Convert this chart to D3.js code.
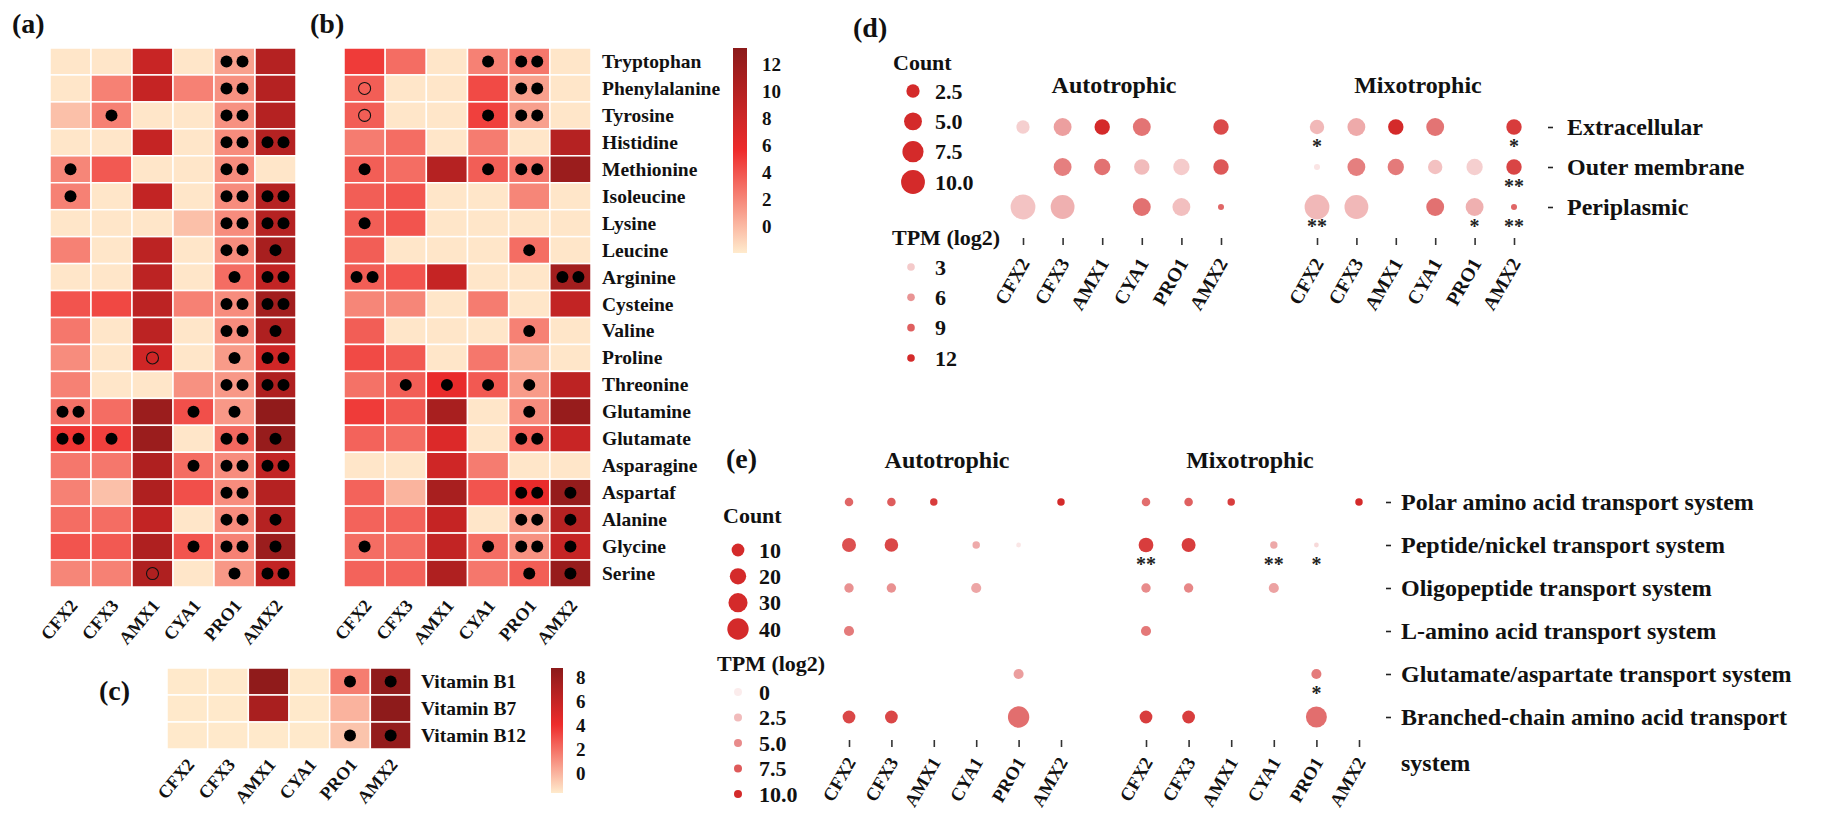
<!DOCTYPE html>
<html><head><meta charset="utf-8">
<script src="https://cdn.jsdelivr.net/npm/d3@7"></script>
<style>
body{margin:0;background:#fff}
svg text{font-family:"Liberation Serif","Times New Roman",serif;font-weight:bold;fill:#111}
</style>
</head><body>
<svg id="chart" width="1821" height="814"></svg>
<script>
// ---------------- DATA ----------------
const strains = ["CFX2","CFX3","AMX1","CYA1","PRO1","AMX2"];
const aminoAcids = ["Tryptophan","Phenylalanine","Tyrosine","Histidine","Methionine","Isoleucine","Lysine","Leucine","Arginine","Cysteine","Valine","Proline","Threonine","Glutamine","Glutamate","Asparagine","Aspartaf","Alanine","Glycine","Serine"];
// (a) heat values (log2 scale)
const heatA = [
 [-1.8,-1.8,8.5,-1.8,1.0,10],
 [-1.8,2.2,8.8,2.2,1.6,10],
 [-0.3,2.2,-1.8,-1.8,1.6,10],
 [-1.8,-1.8,8.8,-1.8,1.8,10],
 [2.0,3.8,-1.8,-1.8,1.8,-1.8],
 [2.2,-1.8,9.0,-1.8,1.8,10],
 [-1.8,-1.8,-1.8,-0.3,1.8,10],
 [2.2,-1.8,9.5,-1.8,1.8,11],
 [-1.8,-1.8,9.5,-1.8,3.0,9],
 [4.0,4.5,9.5,2.2,1.8,11.5],
 [2.6,-1.8,9.5,-1.8,1.8,10.5],
 [1.8,-1.8,8.0,-1.8,1.2,8],
 [2.2,-1.8,-1.8,1.6,1.3,10.5],
 [2.8,3.0,12,4.2,1.3,12.8],
 [5.2,4.8,12,-1.8,3.2,12.3],
 [2.6,2.6,10.5,3.0,1.8,9],
 [2.2,-0.3,10.5,4.2,1.8,10],
 [3.0,3.0,9.0,-1.8,1.8,10],
 [4.0,3.8,10.5,4.0,2.2,12],
 [2.0,2.2,10.5,-1.8,1.3,9]
];
// markers: 0 none, 1 one dot, 2 two dots, 3 open circle
const markA = [
 [0,0,0,0,2,0],[0,0,0,0,2,0],[0,1,0,0,2,0],[0,0,0,0,2,2],[1,0,0,0,2,0],
 [1,0,0,0,2,2],[0,0,0,0,2,2],[0,0,0,0,2,1],[0,0,0,0,1,2],[0,0,0,0,2,2],
 [0,0,0,0,2,1],[0,0,3,0,1,2],[0,0,0,0,2,2],[2,0,0,1,1,0],[2,1,0,0,2,1],
 [0,0,0,1,2,2],[0,0,0,0,2,0],[0,0,0,0,2,1],[0,0,0,1,2,1],[0,0,3,0,1,2]
];
// (b)
const heatB = [
 [5.0,3.0,-1.8,2.2,2.6,-1.8],
 [3.6,-1.8,-1.8,4.4,1.0,-1.8],
 [3.6,-1.8,-1.8,4.8,1.0,-1.8],
 [2.4,3.0,-1.8,2.4,-1.8,10],
 [3.6,3.0,10,3.6,2.6,12],
 [3.6,4.0,-1.8,-1.8,2.0,-1.8],
 [3.6,4.0,-1.8,-1.8,-1.8,-1.8],
 [3.6,-1.8,-1.8,-1.8,3.0,-1.8],
 [3.6,4.0,8.8,-1.8,-1.8,11.5],
 [2.0,2.0,-1.8,2.4,-1.8,9],
 [3.6,-1.8,-1.8,-1.8,2.2,-1.8],
 [4.4,3.8,-1.8,2.6,0.2,-1.8],
 [2.8,3.6,6.0,3.8,1.2,9.5],
 [5.0,3.8,11,-1.8,1.8,12.3],
 [3.4,3.0,7.0,-1.8,3.4,8.5],
 [-1.8,-1.8,8.0,2.4,-1.8,-1.8],
 [3.4,0.2,11,4.0,6.0,12.5],
 [3.4,3.4,8.8,-1.8,1.2,10],
 [3.0,3.0,9.0,3.0,1.6,8.8],
 [3.4,3.4,10.5,2.6,3.6,12.3]
];
const markB = [
 [0,0,0,1,2,0],[3,0,0,0,2,0],[3,0,0,1,2,0],[0,0,0,0,0,0],[1,0,0,1,2,0],
 [0,0,0,0,0,0],[1,0,0,0,0,0],[0,0,0,0,1,0],[2,0,0,0,0,2],[0,0,0,0,0,0],
 [0,0,0,0,1,0],[0,0,0,0,0,0],[0,1,1,1,1,0],[0,0,0,0,1,0],[0,0,0,0,2,0],
 [0,0,0,0,0,0],[0,0,0,0,2,1],[0,0,0,0,2,1],[1,0,0,1,2,1],[0,0,0,0,1,1]
];
const heatTicks = [0,2,4,6,8,10,12];
// (c)
const vitamins = ["Vitamin B1","Vitamin B7","Vitamin B12"];
const heatC = [
 [-1.6,-1.6,8.5,-1.6,1.6,8.5],
 [-1.6,-1.6,7.3,-1.6,0.0,8.6],
 [-1.6,-1.6,-1.6,-1.6,-0.5,8.3]
];
const markC = [[0,0,0,0,1,1],[0,0,0,0,0,0],[0,0,0,0,1,1]];
const vitTicks = [0,2,4,6,8];
// (d)
const locations = ["Extracellular","Outer membrane","Periplasmic"];
const dCountAuto = [[2.5,5,3.5,5,null,3.5],[null,5,4,3.5,4,3.5],[11,10,null,5,5,1]];
const dTpmAuto   = [[2.7,5.4,12,7.8,null,10.2],[null,7.2,8,3.8,2.9,9.4],[3.4,4.4,null,8,3.6,8.6]];
const dCountMixo = [[3,5,3.5,5,null,3.5],[1,5,4,3,4,3.5],[11,10,null,5,5,1]];
const dTpmMixo   = [[4,4.8,12,7.8,null,11],[1.5,7.2,7.5,3.5,2.7,10.5],[4,4,null,8,4.4,8.6]];
const dSigMixo   = [["*","","","","","*"],["","","","","","**"],["**","","","","*","**"]];
const countTicksD = [2.5,5.0,7.5,10.0];
const tpmTicksD = [3,6,9,12];
// (e)
const transporters = ["Polar amino acid transport system","Peptide/nickel transport system","Oligopeptide transport system","L-amino acid transport system","Glutamate/aspartate transport system","Branched-chain amino acid transport system"];
const eCountAuto = [
 [3,3,2,null,null,2],[13,12,null,2,1,null],[4,4,null,5,null,null],
 [5,null,null,null,null,null],[null,null,null,null,5,null],[10,10,null,null,40,null]];
const eTpmAuto = [
 [6.9,7.4,9.1,null,null,10],[8,8.5,null,3.4,0.3,null],[4.7,4.7,null,3.6,null,null],
 [5.8,null,null,null,null,null],[null,null,null,null,4,null],[8.5,8.5,null,null,6.5,null]];
const eCountMixo = [
 [3,3,2,null,null,2],[15,13,null,2,1,null],[4,4,null,5,null,null],
 [5,null,null,null,null,null],[null,null,null,null,5,null],[10,10,null,null,38,null]];
const eTpmMixo = [
 [6.5,7.2,9,null,null,10],[9,9,null,3.5,1,null],[5,5.2,null,3.8,null,null],
 [6,null,null,null,null,null],[null,null,null,null,5.8,null],[9,9,null,null,6.5,null]];
const eSigMixo = [
 ["","","","","",""],["**","","","**","*",""],["","","","","",""],
 ["","","","","",""],["","","","","*",""],["","","","","",""]];
const countTicksE = [10,20,30,40];
const tpmTicksE = [0,2.5,5.0,7.5,10.0];

// ---------------- DRAW ----------------
const svg = d3.select("#chart");
const defs = svg.append("defs");
const RED = "#d42a2a";

function txt(x, y, s, size, opts = {}) {
  return svg.append("text").attr("x", x).attr("y", y)
    .attr("text-anchor", opts.anchor || "start")
    .attr("dominant-baseline", opts.base || "central")
    .style("font-size", size + "px").text(s);
}

const heatScale = d => d3.scaleLinear().domain(d).range(["#FFEBCD","#EE2C2C","#8B1A1A"]).clamp(true);
const colAB = heatScale([-2, 5.6, 13.25]);
const colC = heatScale([-1.67, 4, 8.75]);

function drawHeat(values, marks, rows, x, y, color, labelY) {
  const g = svg.append("g");
  values.forEach((row, i) => row.forEach((v, j) => {
    g.append("rect").attr("x", x(strains[j])).attr("y", y(rows[i]))
      .attr("width", x.bandwidth()).attr("height", y.bandwidth())
      .attr("fill", color(v)).attr("stroke", "#fff").attr("stroke-width", 1.5);
  }));
  marks.forEach((row, i) => row.forEach((m, j) => {
    const cx = x(strains[j]) + x.bandwidth() / 2, cy = y(rows[i]) + y.bandwidth() / 2;
    if (m === 1) g.append("circle").attr("cx", cx).attr("cy", cy).attr("r", 6).attr("fill", "#000");
    else if (m === 2) [-8, 8].forEach(o => g.append("circle").attr("cx", cx + o).attr("cy", cy).attr("r", 6).attr("fill", "#000"));
    else if (m === 3) g.append("circle").attr("cx", cx).attr("cy", cy).attr("r", 6).attr("fill", "none").attr("stroke", "#111").attr("stroke-width", 1.1);
  }));
  strains.forEach(s => {
    g.append("text").attr("text-anchor", "end")
      .attr("transform", `translate(${x(s) + x.bandwidth() / 2 + 8},${labelY}) rotate(-50)`)
      .style("font-size", "18px").text(s);
  });
}

function colorbar(id, color, domain, x0, w, yr, ticks, pad) {
  const y = d3.scaleLinear().domain(domain).range(yr);
  const grad = defs.append("linearGradient").attr("id", id).attr("x1", 0).attr("y1", 1).attr("x2", 0).attr("y2", 0);
  d3.range(0, 1.0001, 0.05).forEach(t => grad.append("stop").attr("offset", t)
    .attr("stop-color", color(domain[0] + t * (domain[1] - domain[0]))));
  svg.append("rect").attr("x", x0).attr("y", yr[1]).attr("width", w).attr("height", yr[0] - yr[1]).attr("fill", `url(#${id})`);
  const ax = svg.append("g").attr("transform", `translate(${x0 + w},0)`)
    .call(d3.axisRight(y).tickValues(ticks).tickSize(0).tickPadding(pad).tickFormat(d3.format("d")));
  ax.select(".domain").remove();
  ax.selectAll("text").style("font-size", "19px");
}

// (a)
const yAB = d3.scaleBand().domain(aminoAcids).range([48, 587]);
const xA = d3.scaleBand().domain(strains).range([50, 296]);
const xB = d3.scaleBand().domain(strains).range([344, 591]);
drawHeat(heatA, markA, aminoAcids, xA, yAB, colAB, 606);
drawHeat(heatB, markB, aminoAcids, xB, yAB, colAB, 606);
aminoAcids.forEach(a => txt(602, yAB(a) + yAB.bandwidth() / 2, a, 19.5));
colorbar("gradAB", colAB, [-2, 13.25], 733, 14, [253, 48], heatTicks, 15);
txt(12, 23, "(a)", 28);
txt(310, 23, "(b)", 28);

// (c)
const yC = d3.scaleBand().domain(vitamins).range([668, 749]);
const xC = d3.scaleBand().domain(strains).range([167, 411]);
drawHeat(heatC, markC, vitamins, xC, yC, colC, 765);
vitamins.forEach(v => txt(421, yC(v) + yC.bandwidth() / 2, v, 19.5));
colorbar("gradC", colC, [-1.67, 8.75], 551, 12, [793, 668], vitTicks, 13);
txt(99, 690, "(c)", 28);

// dot panels
function dotPanel(rows, counts, tpms, sig, x, y, r, op) {
  const g = svg.append("g");
  counts.forEach((row, i) => row.forEach((c, j) => {
    if (c == null) return;
    g.append("circle").attr("cx", x(strains[j])).attr("cy", y(rows[i]))
      .attr("r", r(c - 1)).attr("fill", RED).attr("fill-opacity", op(tpms[i][j]));
  }));
  if (sig) sig.forEach((row, i) => row.forEach((s, j) => {
    if (!s) return;
    g.append("text").attr("x", x(strains[j])).attr("y", y(rows[i]) + 26)
      .attr("text-anchor", "middle").style("font-size", "20px").style("fill", "#222").text(s);
  }));
}
function bottomAxis(x, y0, off, size) {
  const ax = svg.append("g").attr("transform", `translate(0,${y0})`)
    .call(d3.axisBottom(x).tickSize(7).tickPadding(0));
  ax.select(".domain").remove();
  ax.selectAll(".tick line").attr("stroke", "#333").attr("stroke-width", 1.6);
  ax.selectAll("text").attr("y", null).attr("dy", null).attr("text-anchor", "end")
    .attr("transform", `translate(7,${off}) rotate(-60)`).style("font-size", size + "px");
}
function rightAxis(y, x0, pad, size, maxW) {
  const ax = svg.append("g").attr("transform", `translate(${x0},0)`)
    .call(d3.axisRight(y).tickSize(5).tickPadding(pad));
  ax.select(".domain").remove();
  ax.selectAll(".tick line").attr("stroke", "#222").attr("stroke-width", 1.6);
  ax.selectAll("text").style("font-size", size + "px").each(function () {
    const t = d3.select(this);
    if (this.getComputedTextLength() <= maxW) return;
    const words = t.text().split(" ");
    const last = words.pop();
    t.text(null);
    t.append("tspan").attr("x", pad + 5).attr("dy", "0.32em").text(words.join(" "));
    t.append("tspan").attr("x", pad + 5).attr("dy", "1.9em").text(last);
  });
}

// (d)
const rD = d3.scaleSqrt().domain([0, 10]).range([3, 12.4]);
const opD = d3.scaleLinear().domain([0, 12]).range([0, 1]).clamp(true);
const yD = d3.scalePoint().domain(locations).range([127, 207]);
const xDA = d3.scalePoint().domain(strains).range([1023, 1221]);
const xDM = d3.scalePoint().domain(strains).range([1317, 1514]);
dotPanel(locations, dCountAuto, dTpmAuto, null, xDA, yD, rD, opD);
dotPanel(locations, dCountMixo, dTpmMixo, dSigMixo, xDM, yD, rD, opD);
bottomAxis(xDA, 238, 25, 19.5);
bottomAxis(xDM, 238, 25, 19.5);
rightAxis(yD, 1548, 14, 24, 1000);
txt(1114, 85, "Autotrophic", 24, {anchor: "middle"});
txt(1418, 85, "Mixotrophic", 24, {anchor: "middle"});
txt(853, 27, "(d)", 28);
// legend d
txt(893, 62, "Count", 22);
const lyDc = d3.scalePoint().domain(countTicksD).range([91, 182]);
countTicksD.forEach(v => {
  svg.append("circle").attr("cx", 913).attr("cy", lyDc(v)).attr("r", rD(v - 1)).attr("fill", RED);
  txt(935, lyDc(v), d3.format(".1f")(v), 22);
});
txt(892, 237, "TPM (log2)", 22);
const lyDt = d3.scalePoint().domain(tpmTicksD).range([267, 358]);
tpmTicksD.forEach(v => {
  svg.append("circle").attr("cx", 911).attr("cy", lyDt(v)).attr("r", 3.8).attr("fill", RED).attr("fill-opacity", opD(v));
  txt(935, lyDt(v), v, 22);
});

// (e)
const rE = d3.scaleSqrt().domain([0, 44]).range([2.4, 11.2]);
const opE = d3.scaleLinear().domain([-1, 10]).range([0, 1]).clamp(true);
const yE = d3.scalePoint().domain(transporters).range([502, 717]);
const xEA = d3.scalePoint().domain(strains).range([849, 1061]);
const xEM = d3.scalePoint().domain(strains).range([1146, 1359]);
dotPanel(transporters, eCountAuto, eTpmAuto, null, xEA, yE, rE, opE);
dotPanel(transporters, eCountMixo, eTpmMixo, eSigMixo, xEM, yE, rE, opE);
bottomAxis(xEA, 740, 22, 18.5);
bottomAxis(xEM, 740, 22, 18.5);
rightAxis(yE, 1386, 10, 24, 410);
txt(947, 460, "Autotrophic", 24, {anchor: "middle"});
txt(1250, 460, "Mixotrophic", 24, {anchor: "middle"});
txt(726, 458, "(e)", 28);
txt(723, 515, "Count", 22);
const lyEc = d3.scalePoint().domain(countTicksE).range([550, 629]);
countTicksE.forEach(v => {
  svg.append("circle").attr("cx", 738).attr("cy", lyEc(v)).attr("r", rE(v - 1)).attr("fill", RED);
  txt(759, lyEc(v), v, 22);
});
txt(717, 663, "TPM (log2)", 22);
const lyEt = d3.scalePoint().domain(tpmTicksE).range([692, 794]);
tpmTicksE.forEach(v => {
  svg.append("circle").attr("cx", 738).attr("cy", lyEt(v)).attr("r", 4).attr("fill", RED).attr("fill-opacity", opE(v));
  txt(759, lyEt(v), v === 0 ? "0" : d3.format(".1f")(v), 22);
});
</script></body></html>
